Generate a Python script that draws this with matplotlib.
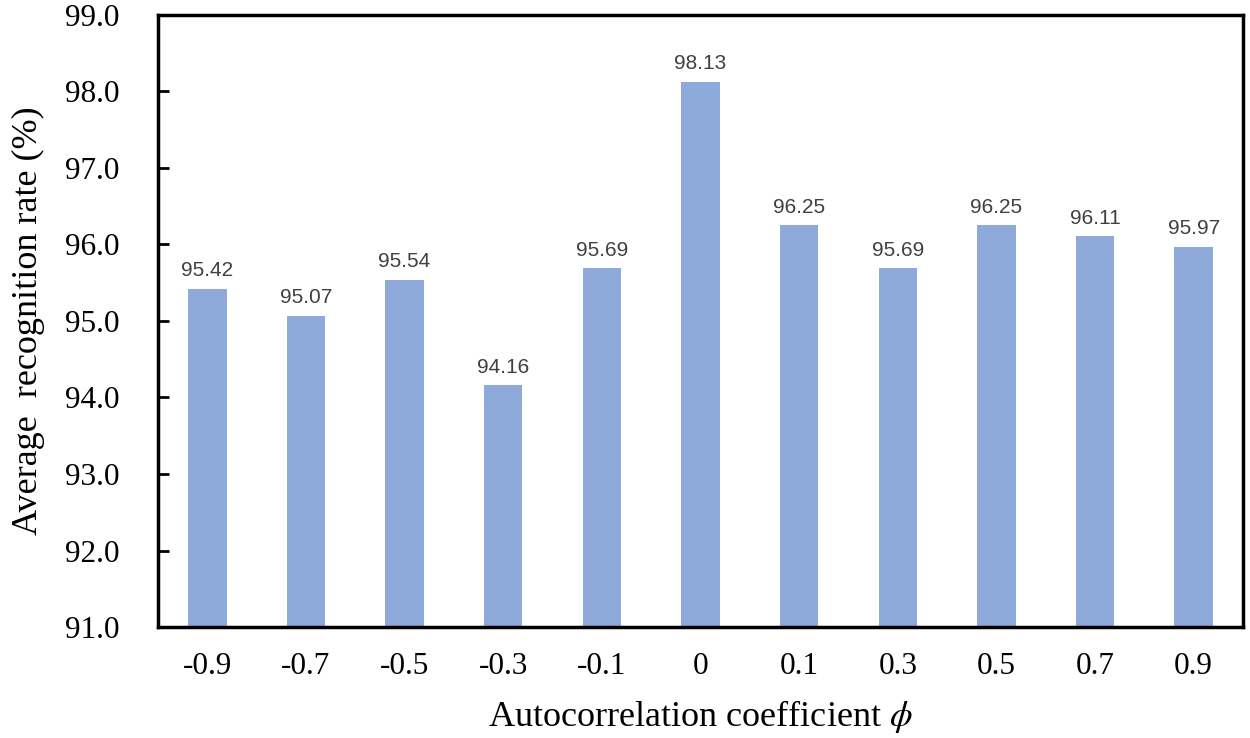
import matplotlib
matplotlib.use('Agg')
import matplotlib.pyplot as plt
import numpy as np

# donnees
phi_labels = ['-0.9', '-0.7', '-0.5', '-0.3', '-0.1', '0', '0.1', '0.3', '0.5', '0.7', '0.9']
rates = [95.42, 95.07, 95.54, 94.16, 95.69, 98.13, 96.25, 95.69, 96.25, 96.11, 95.97]
yticks = [91, 92, 93, 94, 95, 96, 97, 98, 99]

plt.rcParams['font.family'] = ['Liberation Serif', 'DejaVu Serif']
plt.rcParams['mathtext.fontset'] = 'stix'

fig = plt.figure(figsize=(12.5, 7.38), dpi=100)
ax = fig.add_axes([0.1264, 0.1504, 0.868, 0.8293])

x = np.arange(len(phi_labels))
bars = ax.bar(x, rates, width=0.39, color='#8eaadb')

# etiquettes de valeur au-dessus des barres
for xi, v in zip(x, rates):
    ax.annotate('%.2f' % v, (xi, v), xytext=(0, 9), textcoords='offset points',
                ha='center', va='baseline', fontsize=15, color='#404040',
                family=['Liberation Sans', 'DejaVu Sans'])

ax.set_xlim(-0.5, len(phi_labels) - 0.5)
ax.set_ylim(91, 99)
ax.set_yticks(yticks)
ax.set_yticklabels(['%.1f' % t for t in yticks], fontsize=22.5)
ax.set_xticks(x)
ax.set_xticklabels(phi_labels, fontsize=22.5)
ax.tick_params(axis='y', direction='in', length=8, width=2, pad=28)
ax.tick_params(axis='x', length=0, pad=18)
for s in ax.spines.values():
    s.set_linewidth(2.5)

ax.set_ylabel('Average  recognition rate (%)', fontsize=26, labelpad=14)
ax.set_xlabel(r'Autocorrelation coefficient $\phi$', fontsize=26, labelpad=12)

fig.savefig('out.png', dpi=100)
